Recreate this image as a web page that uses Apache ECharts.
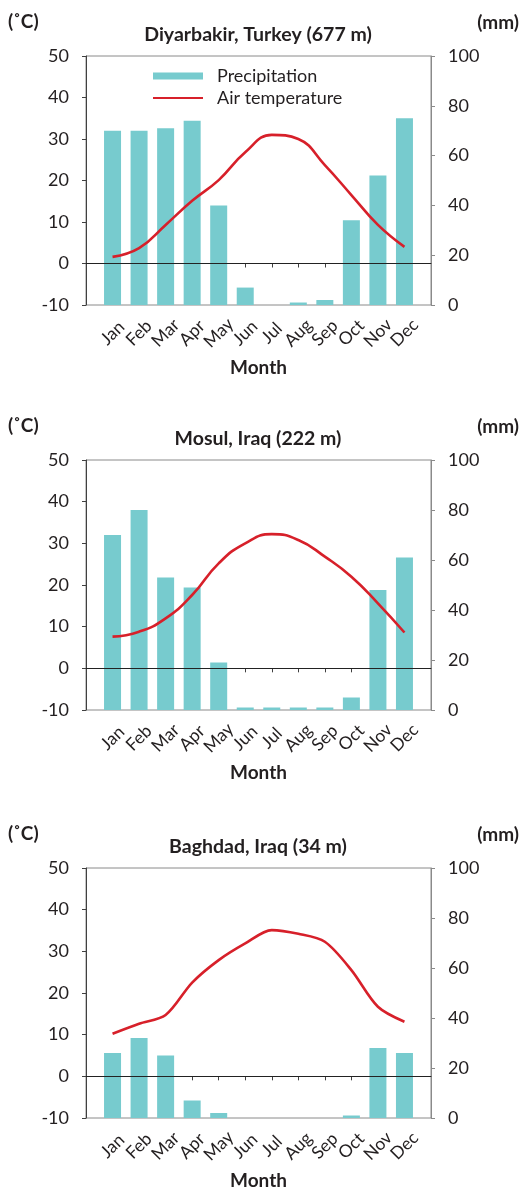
<!DOCTYPE html>
<html>
<head>
<meta charset="utf-8">
<script src="https://cdn.jsdelivr.net/npm/echarts@6/dist/echarts.min.js"></script>
<style>
  html, body { margin: 0; padding: 0; background: #fff; }
  #chart { width: 525px; height: 1191px; }
</style>
</head>
<body>
<div id="chart"></div>
<script>
// ---- data ----
const months = ['Jan', 'Feb', 'Mar', 'Apr', 'May', 'Jun', 'Jul', 'Aug', 'Sep', 'Oct', 'Nov', 'Dec'];
const stationTitles = ['Diyarbakir, Turkey (677 m)', 'Mosul, Iraq (222 m)', 'Baghdad, Iraq (34 m)'];

const diyarbakirPrecip = [70, 70, 71, 74, 40, 7, 0, 1, 2, 34, 52, 75];
const diyarbakirTemp   = [1.6, 3.7, 9.3, 15.1, 20.1, 26.8, 31.0, 30.0, 23.7, 16.5, 9.3, 4.0];

const mosulPrecip = [70, 80, 53, 49, 19, 1, 1, 1, 1, 5, 48, 61];
const mosulTemp   = [7.6, 8.8, 12.0, 17.6, 25.2, 30.0, 32.2, 30.8, 26.8, 22.0, 15.6, 8.6];

const baghdadPrecip = [26, 32, 25, 7, 2, 0, 0, 0, 0, 1, 28, 26];
const baghdadTemp   = [10.2, 12.6, 14.7, 22.5, 27.9, 31.9, 35.1, 34.2, 32.3, 25.5, 16.7, 13.1];

const tempAxis = { min: -10, max: 50, interval: 10 };
const precipAxis = { min: 0, max: 100, interval: 20 };

const precipSets = [diyarbakirPrecip, mosulPrecip, baghdadPrecip];
const tempSets = [diyarbakirTemp, mosulTemp, baghdadTemp];

// ---- layout ----
const FONT = 'Lato, "Noto Sans", sans-serif';
const TXT = '#231f20';
const gridTops = [56, 460, 868];
const gridHeights = [249, 250, 250];
const smoothness = [0.45, 0.5, 0.3];
const GRID_LEFT = 86, GRID_W = 345;

const axisData = [''].concat(months, ['']);
const pad = arr => [null].concat(arr, [null]);

const grids = [], xAxes = [], yAxes = [], series = [], graphics = [];

for (let k = 0; k < 3; k++) {
  grids.push({
    left: GRID_LEFT, top: gridTops[k], width: GRID_W, height: gridHeights[k],
    show: true, borderColor: '#8a8a8a', borderWidth: 1, backgroundColor: 'transparent'
  });
  xAxes.push({
    gridIndex: k, type: 'category', data: axisData, boundaryGap: false,
    axisLine: { show: true, lineStyle: { color: '#404040', width: 1 } },
    axisTick: { show: true, length: 4, interval: (i) => i > 0 && i < axisData.length - 1,
                lineStyle: { color: '#404040' } },
    axisLabel: { interval: 0, rotate: 45, align: 'center', verticalAlign: 'middle', margin: 28,
                 fontFamily: FONT, fontSize: 17.5, color: TXT },
    splitLine: { show: false },
    name: 'Month', nameLocation: 'middle', nameGap: 53,
    nameTextStyle: { fontFamily: FONT, fontSize: 19, fontWeight: 'bold', color: TXT }
  });
  yAxes.push({
    gridIndex: k, type: 'value', position: 'left',
    min: tempAxis.min, max: tempAxis.max, interval: tempAxis.interval,
    axisLine: { show: true, lineStyle: { color: '#404040', width: 1 } },
    axisTick: { show: true, length: 4, lineStyle: { color: '#404040' } },
    splitLine: { show: false },
    axisLabel: { margin: 17, fontFamily: FONT, fontSize: 18, color: TXT }
  });
  yAxes.push({
    gridIndex: k, type: 'value', position: 'right',
    min: precipAxis.min, max: precipAxis.max, interval: precipAxis.interval,
    axisLine: { show: true, lineStyle: { color: '#8a8a8a', width: 1 } },
    axisTick: { show: true, length: 4, lineStyle: { color: '#8a8a8a' } },
    splitLine: { show: false },
    axisLabel: { margin: 17, fontFamily: FONT, fontSize: 18, color: TXT }
  });
  series.push({
    name: 'Precipitation', type: 'bar', xAxisIndex: k, yAxisIndex: 2 * k + 1,
    data: pad(precipSets[k]), barWidth: 17,
    itemStyle: { color: '#77cbce' }, animation: false
  });
  series.push({
    name: 'Air temperature', type: 'line', xAxisIndex: k, yAxisIndex: 2 * k,
    data: pad(tempSets[k]), smooth: smoothness[k], symbol: 'none', showSymbol: false,
    lineStyle: { color: '#d7202a', width: 2.6 }, itemStyle: { color: '#d7202a' },
    z: 5, animation: false,
    markLine: {
      silent: true, symbol: ['none', 'none'], label: { show: false },
      lineStyle: { color: '#222', width: 1, type: 'solid' },
      data: [{ yAxis: 0 }], animation: false
    }
  });

  const top = gridTops[k];
  graphics.push({
    type: 'text', x: 258, y: top - 21,
    style: { text: stationTitles[k], align: 'center', verticalAlign: 'middle',
             font: 'bold 19.5px ' + FONT, fill: TXT }
  });
  graphics.push({
    type: 'text', x: 8, y: top - 34,
    style: { text: '(˚C)', align: 'left', verticalAlign: 'middle',
             font: 'bold 19px ' + FONT, fill: TXT }
  });
  graphics.push({
    type: 'text', x: 519, y: top - 33,
    style: { text: '(mm)', align: 'right', verticalAlign: 'middle',
             font: 'bold 19px ' + FONT, fill: TXT }
  });
}

const chart = echarts.init(document.getElementById('chart'), null, { renderer: 'canvas' });
chart.setOption({
  animation: false,
  backgroundColor: '#fff',
  grid: grids,
  xAxis: xAxes,
  yAxis: yAxes,
  legend: {
    orient: 'vertical', left: 152, top: 67, padding: 0,
    itemWidth: 50, itemHeight: 7, itemGap: 4,
    data: [{ name: 'Precipitation', icon: 'rect' },
           { name: 'Air temperature', itemStyle: { opacity: 0 } }],
    textStyle: { fontFamily: FONT, fontSize: 18, color: TXT, padding: [0, 0, 0, 9] },
    selectedMode: false
  },
  graphic: graphics,
  series: series
});
</script>
</body>
</html>
